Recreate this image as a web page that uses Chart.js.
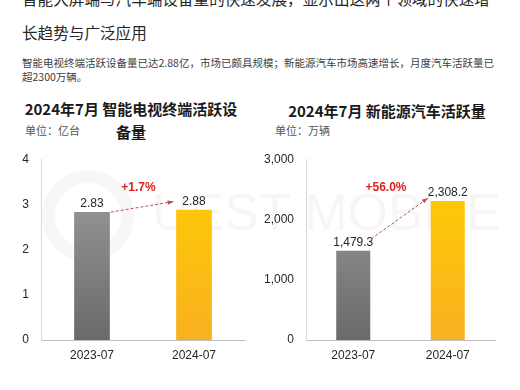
<!DOCTYPE html>
<html>
<head>
<meta charset="utf-8">
<script src="https://cdn.jsdelivr.net/npm/chart.js"></script>
<style>
  body { margin: 0; width: 520px; height: 390px; background: #fff; overflow: hidden;
         font-family: "Liberation Sans", "Noto Sans CJK SC", sans-serif; position: relative; }
  .headline { position: absolute; left: 22px; top: -19px; width: 474px; font-size: 15.6px;
              line-height: 34px; color: #262626; font-family: "Noto Sans CJK SC", sans-serif; }
  .sub { position: absolute; left: 22px; top: 56px; width: 480px; font-size: 10.5px;
         line-height: 14px; color: #404040; font-family: "Noto Sans CJK SC", sans-serif; }
  .title { position: absolute; font-weight: bold; font-size: 15px; color: #1a1a1a; text-align: center;
           line-height: 23px; font-family: "Noto Sans CJK SC", sans-serif; }
  .unit { position: absolute; font-size: 11px; color: #555; font-family: "Noto Sans CJK SC", sans-serif; }
  .wm { position: absolute; left: 152px; top: 182px; font-size: 52px; color: rgba(0,0,0,0.035);
        font-family: "Liberation Sans", sans-serif; white-space: nowrap; }
  .ring { position: absolute; left: 42px; top: 170px; width: 66px; height: 66px; border-radius: 50%;
          border: 13px solid rgba(0,0,0,0.03); }
  canvas { position: absolute; }
</style>
</head>
<body>
<div class="ring"></div>
<div class="wm">UEST MOBILE</div>
<div class="headline">智能大屏端与汽车端设备量的快速发展，显示出这两个领域的快速增长趋势与广泛应用</div>
<div class="sub">智能电视终端活跃设备量已达2.88亿，市场已颇具规模；新能源汽车市场高速增长，月度汽车活跃量已超2300万辆。</div>
<div class="title" style="left:19px; top:97px; width:224px;">2024年7月 智能电视终端活跃设备量</div>
<div class="unit" style="left:25px; top:122px;">单位：亿台</div>
<div class="title" style="left:280px; top:99px; width:214px;">2024年7月 新能源汽车活跃量</div>
<div class="unit" style="left:275px; top:122px;">单位：万辆</div>
<div style="position:absolute; left:0; top:140px; width:255px; height:235px;"><canvas id="tv"></canvas></div>
<div style="position:absolute; left:260px; top:140px; width:245px; height:235px;"><canvas id="car"></canvas></div>
<script>
const months = ["2023-07", "2024-07"];
const tvValues = [2.83, 2.88];
const tvTicks = [0, 1, 2, 3, 4];
const tvGrowth = "+1.7%";
const carValues = [1479.3, 2308.2];
const carTicks = [0, 1000, 2000, 3000];
const carGrowth = "+56.0%";

function barFill(ctx, idx) {
  const area = ctx.chart.chartArea;
  if (!area) return idx === 0 ? "#8a8a8a" : "#ffc000";
  const g = ctx.chart.ctx.createLinearGradient(0, area.top, 0, area.bottom);
  if (idx === 0) { g.addColorStop(0, "#a0a0a0"); g.addColorStop(1, "#6a6a6a"); }
  else { g.addColorStop(0, "#ffcf00"); g.addColorStop(1, "#f9b020"); }
  return g;
}

const annotatePlugin = {
  id: "annotate",
  afterDatasetsDraw(chart, args, opts) {
    const c = chart.ctx;
    const meta = chart.getDatasetMeta(0);
    const b1 = meta.data[0], b2 = meta.data[1];
    const vals = chart.data.datasets[0].data;
    c.save();
    c.font = "12px 'Liberation Sans'";
    c.fillStyle = "#262626";
    c.textAlign = "center";
    c.textBaseline = "bottom";
    meta.data.forEach((bar, i) => {
      c.fillText(opts.fmt(vals[i]), bar.x, bar.y - 2);
    });
    // dashed arrow between the two bars
    const x1 = b1.x + b1.width / 2 + 1, y1 = b1.y + opts.startDy;
    const x2 = b2.x - b2.width / 2 - 4, y2 = b2.y + opts.endDy;
    c.strokeStyle = "#c0504d";
    c.lineWidth = 1;
    c.setLineDash([3, 2]);
    c.beginPath(); c.moveTo(x1, y1); c.lineTo(x2, y2); c.stroke();
    c.setLineDash([]);
    const ang = Math.atan2(y2 - y1, x2 - x1);
    c.fillStyle = "#c0504d";
    c.beginPath();
    c.moveTo(x2 + 2 * Math.cos(ang), y2 + 2 * Math.sin(ang));
    c.lineTo(x2 - 5 * Math.cos(ang - 0.45), y2 - 5 * Math.sin(ang - 0.45));
    c.lineTo(x2 - 5 * Math.cos(ang + 0.45), y2 - 5 * Math.sin(ang + 0.45));
    c.closePath(); c.fill();
    // growth text
    c.font = "bold 12px 'Liberation Sans'";
    c.fillStyle = "#e0201f";
    c.textBaseline = "middle";
    c.fillText(opts.text, (x1 + x2) / 2 + opts.textDx, chart.chartArea.top + 28);
    c.restore();
  }
};

function makeChart(id, values, ticks, max, barPct, yWidth, fmt, ann) {
  return new Chart(document.getElementById(id), {
    type: "bar",
    data: {
      labels: months,
      datasets: [{
        data: values,
        backgroundColor: (ctx) => barFill(ctx, ctx.dataIndex),
        borderWidth: 0,
        categoryPercentage: 1,
        barPercentage: barPct
      }]
    },
    options: {
      responsive: true,
      maintainAspectRatio: false,
      animation: false,
      layout: { padding: { top: 15, right: 10 } },
      plugins: {
        legend: { display: false },
        tooltip: { enabled: false },
        annotate: Object.assign({ fmt: fmt }, ann)
      },
      scales: {
        x: {
          grid: { display: false, drawTicks: false },
          border: { color: "#bfbfbf" },
          ticks: { color: "#262626", font: { size: 12, family: "Liberation Sans" }, padding: 8 },
          afterFit: (s) => { s.height = 35; }
        },
        y: {
          min: 0, max: max,
          afterBuildTicks: (s) => { s.ticks = ticks.map(v => ({ value: v })); },
          grid: { display: false, drawTicks: false },
          border: { color: "#d9d9d9" },
          ticks: {
            color: "#262626", font: { size: 12, family: "Liberation Sans" }, padding: 12,
            callback: (v) => v.toLocaleString("en-US")
          },
          afterFit: (s) => { s.width = yWidth; }
        }
      }
    },
    plugins: [annotatePlugin]
  });
}

makeChart("tv", tvValues, tvTicks, 4, 0.35, 41, (v) => v.toFixed(2),
  { text: tvGrowth, startDy: 0, endDy: -8, textDx: -3 });
makeChart("car", carValues, carTicks, 3000, 0.36, 46, (v) => v.toLocaleString("en-US", { minimumFractionDigits: 1 }),
  { text: carGrowth, startDy: -12, endDy: -2, textDx: -13 });
</script>
</body>
</html>
